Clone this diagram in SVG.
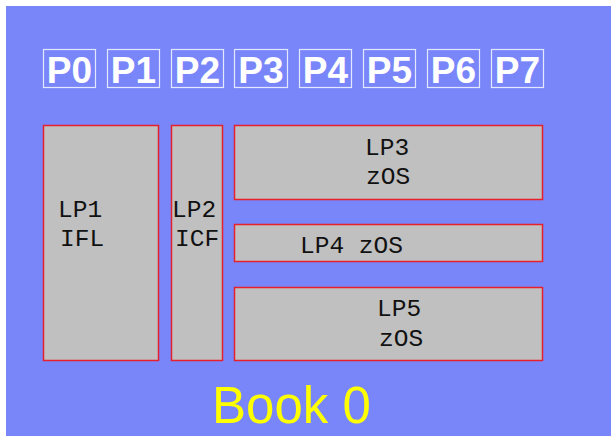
<svg xmlns="http://www.w3.org/2000/svg" width="611" height="436" viewBox="0 0 611 436">
  <style>
    .pu rect { fill: none; stroke: #E4E8FF; stroke-width: 1.2; }
    .pu text { font-family: "Liberation Sans", Arial, sans-serif; font-weight: bold; font-size: 37px; fill: #FFFFFF; text-anchor: middle; }
    .lp rect { fill: #C0C0C0; stroke: #E8202C; stroke-width: 1.5; }
    .lp text { font-family: "Liberation Mono", "Courier New", monospace; font-size: 24.5px; fill: #111111; }
    .book { font-family: "Liberation Sans", Arial, sans-serif; font-size: 51px; fill: #FFFF00; }
  </style>
  <rect x="0" y="0" width="611" height="436" fill="#FFFFFF"/>
  <rect x="6" y="6" width="605" height="430" fill="#7986FA"/>

  <!-- processor units -->
  <g id="p0" class="pu"><rect x="43.5" y="49.5" width="52" height="38"/><text x="69.5" y="82.5">P0</text></g>
  <g id="p1" class="pu"><rect x="107.5" y="49.5" width="52" height="38"/><text x="133.5" y="82.5">P1</text></g>
  <g id="p2" class="pu"><rect x="171.5" y="49.5" width="52" height="38"/><text x="197.5" y="82.5">P2</text></g>
  <g id="p3" class="pu"><rect x="234.5" y="49.5" width="53" height="38"/><text x="261" y="82.5">P3</text></g>
  <g id="p4" class="pu"><rect x="299.5" y="49.5" width="52" height="38"/><text x="325.5" y="82.5">P4</text></g>
  <g id="p5" class="pu"><rect x="363.5" y="49.5" width="52" height="38"/><text x="389.5" y="82.5">P5</text></g>
  <g id="p6" class="pu"><rect x="427.5" y="49.5" width="52" height="38"/><text x="453.5" y="82.5">P6</text></g>
  <g id="p7" class="pu"><rect x="491.5" y="49.5" width="52" height="38"/><text x="517.5" y="82.5">P7</text></g>

  <!-- logical partitions -->
  <g id="lp1" class="lp">
    <rect x="43.5" y="125.5" width="115" height="235"/>
    <text x="58" y="217">LP1</text>
    <text x="60" y="246">IFL</text>
  </g>
  <g id="lp2" class="lp">
    <rect x="171.5" y="125.5" width="51" height="235"/>
    <text x="172" y="217">LP2</text>
    <text x="175" y="246">ICF</text>
  </g>
  <g id="lp3" class="lp">
    <rect x="234.5" y="125.5" width="308" height="74"/>
    <text x="365" y="155">LP3</text>
    <text x="366" y="184">zOS</text>
  </g>
  <g id="lp4" class="lp">
    <rect x="234.5" y="224.5" width="308" height="37"/>
    <text x="300" y="253">LP4  zOS</text>
  </g>
  <g id="lp5" class="lp">
    <rect x="234.5" y="287.5" width="308" height="73"/>
    <text x="377" y="316">LP5</text>
    <text x="379" y="346">zOS</text>
  </g>

  <g id="connectors"/>

  <text class="book" x="212" y="423">Book 0</text>
</svg>
